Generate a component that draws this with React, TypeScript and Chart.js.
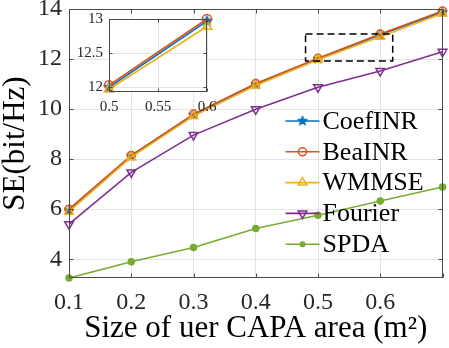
import React, { useEffect, useRef } from "react";
import { Chart, registerables } from "chart.js";

Chart.register(...registerables);

// ---- data ----
const xValues = [0.1, 0.2, 0.3, 0.4, 0.5, 0.6, 0.7];
const coefINR = [5.95, 8.12, 9.77, 10.99, 12.0, 12.97, 13.88];
const beaINR = [6.0, 8.15, 9.8, 11.02, 12.03, 13.0, 13.92];
const wmmse = [5.9, 8.08, 9.72, 10.94, 11.97, 12.89, 13.82];
const fourier = [5.4, 7.47, 8.96, 9.99, 10.87, 11.52, 12.29];
const spda = [3.25, 3.9, 4.47, 5.23, 5.76, 6.33, 6.89];
const seriesNames = ["CoefINR", "BeaINR", "WMMSE", "Fourier", "SPDA"];

const xTicks = [0.1, 0.2, 0.3, 0.4, 0.5, 0.6, 0.7];
const xTickLabels = ["0.1", "0.2", "0.3", "0.4", "0.5", "0.6", ""];
const yTicks = [4, 6, 8, 10, 12, 14];
const xRange = [0.1, 0.7];
const yRange = [3.25, 14];

// inset (zoom of x = 0.5 .. 0.6)
const insetStart = 4;
const insetEnd = 6;
const insetXTicks = [0.5, 0.55, 0.6];
const insetXTickLabels = ["0.5", "0.55", "0.6"];
const insetYTicks = [12, 12.5, 13];
const insetYTickLabels = ["12", "12.5", "13"];
const insetXRange = [0.5, 0.6];
const insetYRange = [11.93, 13.0];
const zoomBoxX = [0.48, 0.62];
const zoomBoxY = [11.92, 13.0];

const xTitle = "Size of uer CAPA area (m\u00B2)";
const yTitle = "SE(bit/Hz)";

// ---- styles ----
const COLORS = ["#0072BD", "#D95319", "#EDB120", "#7E2F8E", "#77AC30"];
const MARKERS = ["star", "circle", "triangle", "triangleDown", "dot"];
const FONT = "Liberation Serif, Tinos, DejaVu Serif, serif";
const TEXT = "#262626";
const GRID = "#e3e3e3";
const BOX = "#4a4a4a";

function makeStar(color: string, size: number) {
  const c = document.createElement("canvas");
  c.width = size;
  c.height = size;
  const g = c.getContext("2d")!;
  const cx = size / 2;
  const R = size / 2 - 0.8;
  const r = R * 0.42;
  g.beginPath();
  for (let k = 0; k < 10; k++) {
    const rr = k % 2 === 0 ? R : r;
    const a = -Math.PI / 2 + (k * Math.PI) / 5;
    g.lineTo(cx + rr * Math.cos(a), cx + rr * Math.sin(a));
  }
  g.closePath();
  g.fillStyle = color;
  g.fill();
  g.strokeStyle = color;
  g.lineWidth = 1;
  g.stroke();
  return c;
}

function drawMarker(ctx: CanvasRenderingContext2D, kind: string, x: number, y: number, r: number, color: string, star: HTMLCanvasElement) {
  ctx.save();
  ctx.strokeStyle = color;
  ctx.fillStyle = color;
  ctx.lineWidth = 1.5;
  if (kind === "star") {
    ctx.drawImage(star, x - star.width / 2, y - star.height / 2);
  } else if (kind === "circle") {
    ctx.beginPath();
    ctx.arc(x, y, r, 0, Math.PI * 2);
    ctx.stroke();
  } else if (kind === "dot") {
    ctx.beginPath();
    ctx.arc(x, y, r, 0, Math.PI * 2);
    ctx.fill();
  } else {
    const rot = kind === "triangleDown" ? Math.PI : 0;
    ctx.beginPath();
    for (let k = 0; k < 3; k++) {
      const a = rot + (k * 2 * Math.PI) / 3;
      const px = x + Math.sin(a) * r;
      const py = y - Math.cos(a) * r;
      if (k === 0) ctx.moveTo(px, py);
      else ctx.lineTo(px, py);
    }
    ctx.closePath();
    ctx.stroke();
  }
  ctx.restore();
}

function makeDataset(i: number, xs: number[], ys: number[], star: HTMLCanvasElement, big: boolean) {
  const kind = MARKERS[i];
  const color = COLORS[i];
  let pointStyle: any = "circle";
  let rotation = 0;
  let radius = big ? 4.5 : 4;
  let bg = "rgba(0,0,0,0)";
  if (kind === "star") pointStyle = star;
  if (kind === "triangle") { pointStyle = "triangle"; radius = big ? 5.5 : 5; }
  if (kind === "triangleDown") { pointStyle = "triangle"; rotation = 180; radius = 5; }
  if (kind === "dot") { radius = 3; bg = color; }
  return {
    label: seriesNames[i],
    data: xs.map((x, k) => ({ x, y: ys[k] })),
    borderColor: color,
    backgroundColor: bg,
    pointBackgroundColor: bg,
    pointBorderColor: color,
    pointBorderWidth: 1.5,
    pointStyle,
    pointRotation: rotation,
    pointRadius: radius,
    borderWidth: 1.6,
    showLine: true,
    fill: false,
    tension: 0,
    clip: 12,
    order: seriesNames.length - i,
  };
}

function zeroPad(s: any) {
  s.paddingTop = 0;
  s.paddingBottom = 0;
  s.paddingLeft = 0;
  s.paddingRight = 0;
}

// axes box with inward tick marks (MATLAB style)
function drawBox(chart: any, xt: number[], yt: number[], len: number) {
  const { ctx, chartArea: a, scales } = chart;
  const L = Math.round(a.left) + 0.5;
  const T = Math.round(a.top) + 0.5;
  const R = Math.round(a.right) - 0.5;
  const B = Math.round(a.bottom) - 0.5;
  ctx.save();
  ctx.strokeStyle = BOX;
  ctx.lineWidth = 1;
  ctx.beginPath();
  xt.forEach((v) => {
    const x = Math.round(scales.x.getPixelForValue(v)) + 0.5;
    ctx.moveTo(x, B);
    ctx.lineTo(x, B - len);
    ctx.moveTo(x, T);
    ctx.lineTo(x, T + len);
  });
  yt.forEach((v) => {
    const y = Math.round(scales.y.getPixelForValue(v)) + 0.5;
    ctx.moveTo(L, y);
    ctx.lineTo(L + len, y);
    ctx.moveTo(R, y);
    ctx.lineTo(R - len, y);
  });
  ctx.stroke();
  ctx.strokeRect(L, T, R - L, B - T);
  ctx.restore();
}

export default function App() {
  const mainRef = useRef<HTMLCanvasElement>(null);
  const insetRef = useRef<HTMLCanvasElement>(null);

  useEffect(() => {
    const star = makeStar(COLORS[0], 12);
    const starInset = makeStar(COLORS[0], 13);
    const allSeries = [coefINR, beaINR, wmmse, fourier, spda];

    const boxPlugin = {
      id: "boxPlugin",
      afterDatasetsDraw(chart: any) {
        const { ctx, chartArea: a, scales } = chart;
        // zoom rectangle
        ctx.save();
        ctx.setLineDash([7, 4]);
        ctx.strokeStyle = "#000";
        ctx.lineWidth = 1.5;
        const x0 = scales.x.getPixelForValue(zoomBoxX[0]);
        const x1 = scales.x.getPixelForValue(zoomBoxX[1]);
        const y0 = scales.y.getPixelForValue(zoomBoxY[1]);
        const y1 = scales.y.getPixelForValue(zoomBoxY[0]);
        ctx.strokeRect(x0, y0, x1 - x0, y1 - y0);
        ctx.restore();
        // legend
        ctx.save();
        const lx0 = a.right - 157;
        const lx1 = a.right - 123;
        const tx = a.right - 120;
        const rowY0 = 121;
        const dy = 30.8;
        ctx.font = "26px " + FONT;
        ctx.textBaseline = "middle";
        ctx.textAlign = "left";
        seriesNames.forEach((name, i) => {
          const y = rowY0 + i * dy;
          ctx.strokeStyle = COLORS[i];
          ctx.lineWidth = 1.6;
          ctx.beginPath();
          ctx.moveTo(lx0, y);
          ctx.lineTo(lx1, y);
          ctx.stroke();
          const k = MARKERS[i];
          const r = k === "dot" ? 3 : k === "circle" ? 4 : 5;
          drawMarker(ctx, k, (lx0 + lx1) / 2, y, r, COLORS[i], star);
          ctx.fillStyle = "#000";
          ctx.fillText(name, tx, y + 1);
        });
        ctx.restore();
      },
      afterDraw(chart: any) {
        drawBox(chart, xTicks, yTicks, 4);
      },
    };

    const main = new Chart(mainRef.current!, {
      type: "line",
      data: {
        datasets: allSeries.map((ys, i) => makeDataset(i, xValues, ys, star, false)) as any,
      },
      options: {
        animation: false,
        responsive: false,
        events: [],
        layout: { padding: { top: 9, right: 6, left: 0, bottom: 0 } },
        plugins: { legend: { display: false }, tooltip: { enabled: false } },
        scales: {
          x: {
            type: "linear",
            min: xRange[0],
            max: xRange[1],
            afterBuildTicks: (s: any) => { s.ticks = xTicks.map((v) => ({ value: v })); },
            afterFit: (s: any) => { s.height = 70; zeroPad(s); },
            ticks: {
              autoSkip: false,
              maxRotation: 0,
              padding: 10,
              color: TEXT,
              font: { family: FONT, size: 24 },
              callback: (v: any) => { const i = xTicks.findIndex((t) => Math.abs(t - v) < 1e-6); return i >= 0 ? xTickLabels[i] : ""; },
            },
            grid: { color: GRID, drawTicks: false, lineWidth: 1 },
            border: { display: false },
            title: { display: true, text: xTitle, color: "#000", font: { family: FONT, size: 31, lineHeight: 1.0 }, padding: { top: 0, bottom: 3.5 } },
          },
          y: {
            type: "linear",
            min: yRange[0],
            max: yRange[1],
            afterBuildTicks: (s: any) => { s.ticks = yTicks.map((v) => ({ value: v })); },
            afterFit: (s: any) => { s.width = 69; zeroPad(s); },
            ticks: {
              padding: 7,
              color: TEXT,
              font: { family: FONT, size: 24 },
              callback: (v: any) => String(v),
            },
            grid: { color: GRID, drawTicks: false, lineWidth: 1 },
            border: { display: false },
            title: { display: true, text: yTitle, color: "#000", font: { family: FONT, size: 31, lineHeight: 1.0 }, padding: { top: 0.5, bottom: 0 } },
          },
        },
      },
      plugins: [boxPlugin],
    } as any);

    const insetPlugin = {
      id: "insetPlugin",
      beforeDraw(chart: any) {
        const { ctx, chartArea: a } = chart;
        ctx.save();
        ctx.fillStyle = "#fff";
        ctx.fillRect(a.left, a.top, a.right - a.left, a.bottom - a.top);
        ctx.restore();
      },
      afterDraw(chart: any) {
        drawBox(chart, insetXTicks, insetYTicks, 3);
      },
    };

    const insetXs = xValues.slice(insetStart, insetEnd);
    const inset = new Chart(insetRef.current!, {
      type: "line",
      data: {
        datasets: [0, 1, 2].map((i) => makeDataset(i, insetXs, allSeries[i].slice(insetStart, insetEnd), starInset, true)) as any,
      },
      options: {
        animation: false,
        responsive: false,
        events: [],
        layout: { padding: { top: 14, right: 13, left: 0, bottom: 0 } },
        plugins: { legend: { display: false }, tooltip: { enabled: false } },
        scales: {
          x: {
            type: "linear",
            min: insetXRange[0],
            max: insetXRange[1],
            afterBuildTicks: (s: any) => { s.ticks = insetXTicks.map((v) => ({ value: v })); },
            afterFit: (s: any) => { s.height = 25; zeroPad(s); },
            ticks: {
              autoSkip: false,
              maxRotation: 0,
              padding: 6,
              color: TEXT,
              font: { family: FONT, size: 15 },
              callback: (v: any) => { const i = insetXTicks.findIndex((t) => Math.abs(t - v) < 1e-6); return i >= 0 ? insetXTickLabels[i] : ""; },
            },
            grid: { color: GRID, drawTicks: false },
            border: { display: false },
          },
          y: {
            type: "linear",
            min: insetYRange[0],
            max: insetYRange[1],
            afterBuildTicks: (s: any) => { s.ticks = insetYTicks.map((v) => ({ value: v })); },
            afterFit: (s: any) => { s.width = 49; zeroPad(s); },
            ticks: {
              padding: 6,
              color: TEXT,
              font: { family: FONT, size: 15 },
              callback: (v: any) => { const i = insetYTicks.findIndex((t) => Math.abs(t - v) < 1e-6); return i >= 0 ? insetYTickLabels[i] : ""; },
            },
            grid: { color: GRID, drawTicks: false },
            border: { display: false },
          },
        },
      },
      plugins: [insetPlugin],
    } as any);

    return () => {
      main.destroy();
      inset.destroy();
    };
  }, []);

  return (
    <div style={{ position: "fixed", left: 0, top: 0, width: 449, height: 348, background: "#fff" }}>
      <canvas ref={mainRef} width={449} height={348} style={{ position: "absolute", left: 0, top: 0 }} />
      <canvas ref={insetRef} width={160} height={112} style={{ position: "absolute", left: 60, top: 5 }} />
    </div>
  );
}
